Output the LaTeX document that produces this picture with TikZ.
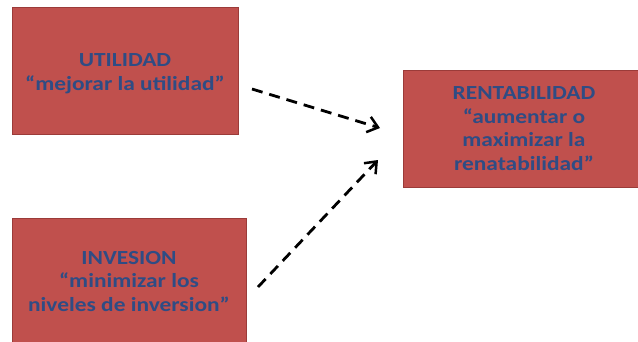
\documentclass[tikz,border=0pt]{standalone}
\usepackage{fontspec}
\setmainfont[FakeStretch=1.17]{Carlito}
\usetikzlibrary{arrows.meta}
\definecolor{boxfill}{HTML}{C0504D}
\definecolor{boxline}{HTML}{9B3B39}
\definecolor{boxtext}{HTML}{2F4C84}
\tikzset{
  redbox/.style={draw=boxline, line width=1pt, fill=boxfill, text=boxtext,
    font=\fontsize{20}{23.5}\selectfont\bfseries, align=center,
    inner sep=0pt},
  flow/.style={line width=2.8pt, dash pattern=on 11pt off 7pt,
    -{Straight Barb[length=10pt,width=16pt,line width=2.5pt]}}
}
\begin{document}
\begin{tikzpicture}[x={(1pt,0)}, y={(0,-1pt)}]
\useasboundingbox (0,0) rectangle (638,341);
\begin{scope}
\clip (0,0) rectangle (638,341);
\node[redbox, minimum width=226pt, minimum height=127pt] (u) at (125,70.5) {};
\node[redbox, minimum width=234pt, minimum height=125pt] (i) at (129,280.5) {};
\node[redbox, minimum width=242pt, minimum height=117pt] (r) at (524,128.5) {};
\end{scope}
\node[redbox, draw=none, fill=none] (ut) at ([yshift=-3pt]u.center) {UTILIDAD\\“mejorar la utilidad”};
\node[redbox, draw=none, fill=none] (it) at ([yshift=-1pt]i.center) {INVESION\\“minimizar los\\niveles de inversion”};
\node[redbox, draw=none, fill=none] (rt) at ([yshift=0pt]r.center) {RENTABILIDAD\\“aumentar o\\maximizar la\\renatabilidad”};
\coordinate (a1s) at (252,89);
\coordinate (a1e) at (380,128);
\coordinate (a2s) at (258,287);
\coordinate (a2e) at (378,160);
\draw[flow] (a1s) -- (a1e);
\draw[flow] (a2s) -- (a2e);
\end{tikzpicture}
\end{document}
